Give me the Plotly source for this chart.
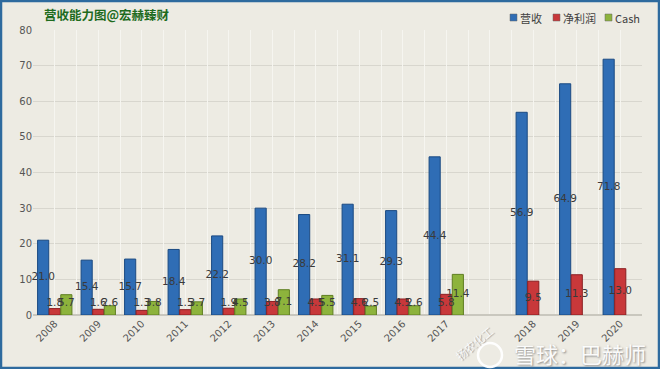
import plotly.graph_objects as go

years = ["2008", "2009", "2010", "2011", "2012", "2013", "2014", "2015", "2016", "2017", " ", "2018", "2019", "2020"]
revenue = [21.0, 15.4, 15.7, 18.4, 22.2, 30.0, 28.2, 31.1, 29.3, 44.4, None, 56.9, 64.9, 71.8]
profit = [1.8, 1.6, 1.3, 1.5, 1.9, 3.8, 4.5, 4.6, 4.5, 5.8, None, 9.5, 11.3, 13.0]
cash = [5.7, 2.6, 3.8, 3.7, 4.5, 7.1, 5.5, 2.5, 2.6, 11.4, None, None, None, None]
y_ticks = [0, 10, 20, 30, 40, 50, 60, 70, 80]

def fmt(v):
    return "" if v is None else f"{v:.1f}"

def label_y(v):
    # labels sit at bar centre, but never lower than a minimum height
    return None if v is None else max(v / 2, 3.3)

BG = "#EDEBE3"
W, H = 660, 369
ML, MR, MT, MB = 33, 18, 30, 54
PW, PH = W - ML - MR, H - MT - MB

def px(x):
    return (x - ML) / PW

def py(y):
    return (H - MB - y) / PH

label_font = dict(family="DejaVu Sans, Verdana, sans-serif", size=10.5, color="#3a3a3a")

fig = go.Figure()
series = [
    ("营收", revenue, "#2F6DB5", "#1B4A82"),
    ("净利润", profit, "#C8383A", "#8A1F22"),
    ("Cash", cash, "#8DB33C", "#5F7E22"),
]
for name, vals, col, edge in series:
    fig.add_trace(go.Bar(
        name=name, x=years, y=vals,
        marker=dict(color=col, line=dict(color=edge, width=1)),
        showlegend=False, hoverinfo="x+y+name",
    ))
for name, vals, col, edge in series:
    fig.add_trace(go.Scatter(
        x=years, y=[label_y(v) for v in vals], text=[fmt(v) for v in vals],
        mode="text", textfont=label_font, textposition="middle center",
        showlegend=False, hoverinfo="skip", cliponaxis=False,
    ))

# faint vertical grid via hidden overlay axis
fig.add_trace(go.Scatter(x=[0, len(years)], y=[0, 0], xaxis="x2", mode="lines",
                         line=dict(width=0), showlegend=False, hoverinfo="skip"))

# manual compact legend
legend_items = [("营收", "#2F6DB5", 510), ("净利润", "#C8383A", 553), ("Cash", "#8DB33C", 605)]
shapes = [
    dict(type="rect", xref="paper", yref="paper", x0=px(1), x1=px(W - 1),
         y0=py(H - 1), y1=py(1), line=dict(color="#2E6A9E", width=2.5)),
    dict(type="circle", xref="paper", yref="paper",
         x0=px(478), x1=px(502), y0=py(367), y1=py(343),
         line=dict(color="rgba(255,255,255,0.95)", width=2.5)),
]
annotations = []
for name, col, x0 in legend_items:
    shapes.append(dict(type="rect", xref="paper", yref="paper", x0=px(x0), x1=px(x0 + 7),
                       y0=py(21), y1=py(14), fillcolor=col, line=dict(color="#666666", width=0.5)))
    annotations.append(dict(text=name, xref="paper", yref="paper", x=px(x0 + 8), y=py(17.5),
                            xanchor="left", yanchor="middle", showarrow=False,
                            font=dict(family="Noto Sans CJK SC, DejaVu Sans", size=11, color="#404040")))

annotations += [
    dict(text="扬农化工", xref="paper", yref="paper", x=px(474), y=py(343), xanchor="center", yanchor="middle",
         showarrow=False, textangle=-40,
         font=dict(family="Noto Sans CJK SC", size=11, color="rgba(255,255,255,0.9)", shadow="1px 1px 1px #999")),
    dict(text="雪球：巴赫师", xref="paper", yref="paper", x=px(580), y=py(353), xanchor="center", yanchor="middle",
         showarrow=False,
         font=dict(family="Noto Sans CJK SC", size=22, color="rgba(255,255,255,0.95)", shadow="1px 1px 2px #888")),
]

fig.update_layout(
    width=W, height=H,
    paper_bgcolor=BG, plot_bgcolor=BG,
    margin=dict(l=ML, r=MR, t=MT, b=MB, autoexpand=False),
    barmode="group", bargap=0.2, bargroupgap=0.04,
    scattermode="group", scattergap=0.2,
    showlegend=False,
    font=dict(family="DejaVu Sans, Verdana, sans-serif", color="#555555"),
    title=dict(text="<b>营收能力图@宏赫臻财</b>", x=px(44), xanchor="left", xref="paper",
               y=1 - 16 / H, yanchor="middle",
               font=dict(family="Noto Sans CJK SC", size=12.5, color="#1E6B1E")),
    xaxis=dict(type="category", categoryorder="array", categoryarray=years,
               tickangle=-45, tickfont=dict(size=10, color="#555555"),
               showgrid=False, showline=False, ticks="", zeroline=False),
    xaxis2=dict(overlaying="x", range=[0, len(years)], dtick=0.5, tick0=0, showgrid=True,
                gridcolor="#F6F5F0", gridwidth=1, showticklabels=False, zeroline=False,
                anchor="y", layer="below traces"),
    yaxis=dict(range=[0, 80], tickvals=y_ticks, showgrid=True, gridcolor="#D8D6CE",
               gridwidth=1, zeroline=True, zerolinecolor="#C9C7BE",
               tickfont=dict(size=10, color="#555555"), ticks="", ticklen=0),
    shapes=shapes,
    annotations=annotations,
)

fig.write_html("out.html", config={"displayModeBar": False},
               post_script="document.body.style.margin='0';document.body.style.overflow='hidden';")
